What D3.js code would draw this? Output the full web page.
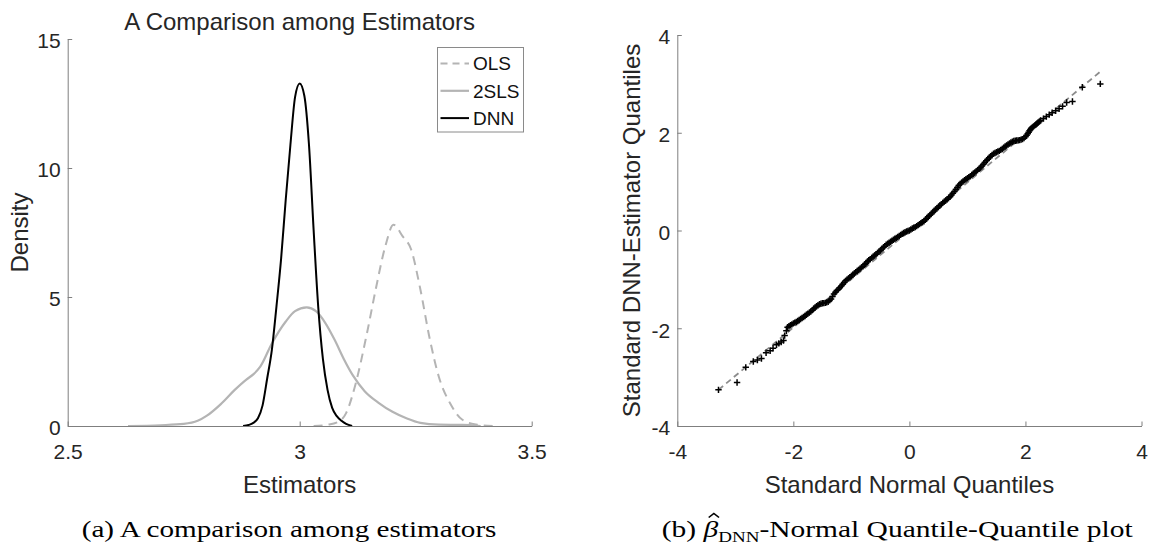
<!DOCTYPE html>
<html>
<head>
<meta charset="utf-8">
<script src="https://cdn.jsdelivr.net/npm/d3@7"></script>
<style>
  body { margin: 0; background: #fff; }
  svg { display: block; }
</style>
</head>
<body>
<svg id="fig" width="1153" height="546"></svg>
<script>
// ---------- Panel (a): kernel density of the three estimators ----------
const densityTicksX = [2.5, 3, 3.5];
const densityTicksY = [0, 5, 10, 15];
const seriesNames = ["OLS", "2SLS", "DNN"];

const olsX = [3.03, 3.06, 3.085, 3.10, 3.12, 3.145, 3.165, 3.185, 3.202, 3.222, 3.24, 3.26, 3.28, 3.30, 3.325, 3.35, 3.38, 3.417];
const olsY = [0, 0.05, 0.18, 0.5, 1.6, 3.6, 5.4, 7.0, 7.8, 7.35, 6.85, 5.3, 3.4, 1.9, 0.85, 0.25, 0.06, 0];

const tslsX = [2.63, 2.70, 2.75, 2.78, 2.80, 2.83, 2.86, 2.885, 2.90, 2.915, 2.94, 2.97, 2.99, 3.015, 3.035, 3.055, 3.075, 3.095, 3.115, 3.14, 3.17, 3.20, 3.23, 3.26, 3.30, 3.35, 3.39];
const tslsY = [0, 0.03, 0.08, 0.2, 0.4, 0.85, 1.4, 1.8, 2.0, 2.3, 3.2, 4.05, 4.45, 4.6, 4.45, 4.0, 3.35, 2.6, 1.95, 1.35, 0.9, 0.55, 0.3, 0.12, 0.05, 0.04, 0];

const dnnX = [2.878, 2.89, 2.90, 2.91, 2.92, 2.93, 2.94, 2.95, 2.96, 2.97, 2.98, 2.99, 3.00, 3.01, 3.02, 3.03, 3.04, 3.05, 3.06, 3.07, 3.08, 3.09, 3.10, 3.113];
const dnnY = [0, 0.04, 0.12, 0.3, 0.8, 1.85, 2.95, 4.65, 6.5, 8.8, 10.9, 12.75, 13.28, 12.8, 10.9, 7.6, 4.6, 2.6, 1.4, 0.7, 0.38, 0.2, 0.08, 0];

// ---------- Panel (b): normal Q-Q plot of the standardised DNN estimator ----------
const qqTicks = [-4, -2, 0, 2, 4];
const qqTheoretical = [
  // lower tail
  -3.29, -2.97, -2.82, -2.69, -2.62, -2.55, -2.47, -2.40, -2.35, -2.29, -2.25, -2.21, -2.17, -2.15, -2.12,
  // body
  -2.100, -2.075, -2.050, -2.025, -2.000, -1.975, -1.950, -1.925, -1.900, -1.875,
  -1.850, -1.825, -1.800, -1.775, -1.750, -1.725, -1.700, -1.675, -1.650, -1.625,
  -1.600, -1.575, -1.550, -1.525, -1.500, -1.475, -1.450, -1.425, -1.400, -1.375,
  -1.350, -1.325, -1.300, -1.275, -1.250, -1.225, -1.200, -1.175, -1.150, -1.125,
  -1.100, -1.075, -1.050, -1.025, -1.000, -0.975, -0.950, -0.925, -0.900, -0.875,
  -0.850, -0.825, -0.800, -0.775, -0.750, -0.725, -0.700, -0.675, -0.650, -0.625,
  -0.600, -0.575, -0.550, -0.525, -0.500, -0.475, -0.450, -0.425, -0.400, -0.375,
  -0.350, -0.325, -0.300, -0.275, -0.250, -0.225, -0.200, -0.175, -0.150, -0.125,
  -0.100, -0.075, -0.050, -0.025, 0.000, 0.025, 0.050, 0.075, 0.100, 0.125,
  0.150, 0.175, 0.200, 0.225, 0.250, 0.275, 0.300, 0.325, 0.350, 0.375,
  0.400, 0.425, 0.450, 0.475, 0.500, 0.525, 0.550, 0.575, 0.600, 0.625,
  0.650, 0.675, 0.700, 0.725, 0.750, 0.775, 0.800, 0.825, 0.850, 0.875,
  0.900, 0.925, 0.950, 0.975, 1.000, 1.025, 1.050, 1.075, 1.100, 1.125,
  1.150, 1.175, 1.200, 1.225, 1.250, 1.275, 1.300, 1.325, 1.350, 1.375,
  1.400, 1.425, 1.450, 1.475, 1.500, 1.525, 1.550, 1.575, 1.600, 1.625,
  1.650, 1.675, 1.700, 1.725, 1.750, 1.775, 1.800, 1.825, 1.850, 1.875,
  1.900, 1.925, 1.950, 1.975, 2.000, 2.020, 2.040, 2.055, 2.070, 2.085,
  2.100, 2.120, 2.140, 2.160, 2.180, 2.200, 2.220, 2.240, 2.260,
  // upper tail
  2.31, 2.36, 2.41, 2.46, 2.52, 2.58, 2.64, 2.71, 2.81, 2.98, 3.29
];
const qqSample = [
  -3.26, -3.11, -2.80, -2.68, -2.65, -2.62, -2.50, -2.46, -2.41, -2.34, -2.31, -2.28, -2.25, -2.15, -2.05,
  -1.980, -1.960, -1.940, -1.920, -1.900, -1.885, -1.870, -1.850, -1.830, -1.810,
  -1.790, -1.770, -1.750, -1.725, -1.700, -1.680, -1.660, -1.630, -1.600, -1.575,
  -1.550, -1.530, -1.510, -1.500, -1.490, -1.485, -1.480, -1.470, -1.460, -1.430,
  -1.400, -1.350, -1.300, -1.265, -1.230, -1.200, -1.170, -1.135, -1.100, -1.065,
  -1.030, -1.005, -0.980, -0.955, -0.930, -0.905, -0.880, -0.855, -0.830, -0.805,
  -0.780, -0.755, -0.730, -0.700, -0.670, -0.640, -0.610, -0.585, -0.560, -0.535,
  -0.510, -0.485, -0.460, -0.435, -0.410, -0.380, -0.350, -0.320, -0.290, -0.270,
  -0.250, -0.230, -0.210, -0.190, -0.170, -0.150, -0.130, -0.110, -0.090, -0.070,
  -0.050, -0.035, -0.020, -0.010, 0.000, 0.020, 0.040, 0.055, 0.070, 0.090,
  0.110, 0.130, 0.150, 0.170, 0.190, 0.220, 0.250, 0.280, 0.310, 0.340,
  0.370, 0.400, 0.430, 0.455, 0.480, 0.510, 0.540, 0.565, 0.590, 0.615,
  0.640, 0.665, 0.690, 0.725, 0.760, 0.800, 0.840, 0.880, 0.920, 0.950,
  0.980, 1.005, 1.030, 1.050, 1.070, 1.090, 1.110, 1.135, 1.160, 1.185,
  1.210, 1.235, 1.260, 1.290, 1.320, 1.355, 1.390, 1.425, 1.460, 1.490,
  1.520, 1.545, 1.570, 1.585, 1.600, 1.615, 1.630, 1.650, 1.670, 1.695,
  1.720, 1.740, 1.760, 1.780, 1.800, 1.815, 1.830, 1.835, 1.840, 1.845,
  1.850, 1.860, 1.870, 1.890, 1.920, 1.950, 1.980, 2.010, 2.040, 2.065,
  2.090, 2.110, 2.130, 2.150, 2.170, 2.190, 2.210, 2.230, 2.250,
  2.29, 2.33, 2.37, 2.41, 2.45, 2.49, 2.54, 2.62, 2.64, 2.93, 3.00
];
const qqRefX = [-3.29, 3.29];
const qqRefY = [-3.26, 3.25];

// ---------- styling ----------
const SANS = '"Liberation Sans", Arial, Helvetica, sans-serif';
const SERIF = '"Liberation Serif", "Times New Roman", serif';
const axisColor = "#7f7f7f";
const textColor = "#262626";
const seriesStyle = {
  "OLS":  { stroke: "#b4b4b4", width: 2, dash: "9,6" },
  "2SLS": { stroke: "#b4b4b4", width: 2.2, dash: null },
  "DNN":  { stroke: "#000000", width: 2, dash: null }
};

const svg = d3.select("#fig");
svg.append("rect").attr("width", 1153).attr("height", 546).attr("fill", "#fff");

function drawAxes(g, x, y, xticks, yticks) {
  const fmt = d => String(d);
  const bottom = g.append("g")
    .attr("transform", `translate(0,${y.range()[0]})`)
    .call(d3.axisBottom(x).tickValues(xticks).tickFormat(fmt)
      .tickSize(-4.5).tickSizeOuter(0).tickPadding(18));
  const left = g.append("g")
    .attr("transform", `translate(${x.range()[0]},0)`)
    .call(d3.axisLeft(y).tickValues(yticks).tickFormat(fmt)
      .tickSize(-4.5).tickSizeOuter(0).tickPadding(7));
  left.selectAll("text").attr("dy", "0.42em");
  [bottom, left].forEach(a => {
    a.attr("font-family", null).attr("font-size", null);
    a.selectAll(".domain, .tick line").attr("stroke", axisColor).attr("stroke-width", 1);
    a.selectAll("text").attr("fill", textColor)
      .style("font-family", SANS).style("font-size", "21px");
  });
}

// ---------- Panel (a) ----------
const xA = d3.scaleLinear().domain([2.5, 3.5]).range([67.7, 531.7]);
const yA = d3.scaleLinear().domain([0, 15]).range([426, 39]);
const gA = svg.append("g");

const seriesData = {
  "OLS": d3.zip(olsX, olsY),
  "2SLS": d3.zip(tslsX, tslsY),
  "DNN": d3.zip(dnnX, dnnY)
};
const densLine = d3.line().x(d => xA(d[0])).y(d => yA(d[1])).curve(d3.curveMonotoneX);

seriesNames.forEach(name => {
  const s = seriesStyle[name];
  gA.append("path")
    .datum(seriesData[name])
    .attr("d", densLine)
    .attr("fill", "none")
    .attr("stroke", s.stroke)
    .attr("stroke-width", s.width)
    .attr("stroke-dasharray", s.dash)
    .attr("stroke-linejoin", "round");
});

drawAxes(gA, xA, yA, densityTicksX, densityTicksY);

gA.append("text")
  .attr("x", (xA.range()[0] + xA.range()[1]) / 2).attr("y", 30)
  .attr("text-anchor", "middle").attr("fill", textColor)
  .style("font-family", SANS).style("font-size", "24px")
  .text("A Comparison among Estimators");

gA.append("text")
  .attr("x", (xA.range()[0] + xA.range()[1]) / 2).attr("y", 492.5)
  .attr("text-anchor", "middle").attr("fill", textColor)
  .style("font-family", SANS).style("font-size", "24px")
  .text("Estimators");

gA.append("text")
  .attr("transform", `translate(27.5,${(yA.range()[0] + yA.range()[1]) / 2}) rotate(-90)`)
  .attr("text-anchor", "middle").attr("fill", textColor)
  .style("font-family", SANS).style("font-size", "24px")
  .text("Density");

// legend
const leg = gA.append("g").attr("transform", "translate(437.5,47.5)");
leg.append("rect").attr("width", 86).attr("height", 84.5)
  .attr("fill", "#fff").attr("stroke", "#8a8a8a").attr("stroke-width", 1);
seriesNames.forEach((name, i) => {
  const s = seriesStyle[name];
  const cy = 16 + i * 27.3;
  leg.append("line").attr("x1", 3).attr("x2", 31.5).attr("y1", cy).attr("y2", cy)
    .attr("stroke", s.stroke).attr("stroke-width", s.width)
    .attr("stroke-dasharray", s.dash ? "7,5" : null);
  leg.append("text").attr("x", 35.5).attr("y", cy).attr("dy", "0.36em")
    .attr("fill", "#111")
    .style("font-family", SANS).style("font-size", "19px")
    .text(name);
});

// ---------- Panel (b) ----------
const xB = d3.scaleLinear().domain([-4, 4]).range([677.3, 1141.5]);
const yB = d3.scaleLinear().domain([-4, 4]).range([426, 35]);
const gB = svg.append("g");

gB.append("line")
  .attr("x1", xB(qqRefX[0])).attr("y1", yB(qqRefY[0]))
  .attr("x2", xB(qqRefX[1])).attr("y2", yB(qqRefY[1]))
  .attr("stroke", "#8c8c8c").attr("stroke-width", 1.8)
  .attr("stroke-dasharray", "6,4");

const plus = "M-3.2,0H3.2M0,-3.2V3.2";
gB.append("g").selectAll("path")
  .data(d3.zip(qqTheoretical, qqSample))
  .join("path")
  .attr("transform", d => `translate(${xB(d[0])},${yB(d[1])})`)
  .attr("d", plus)
  .attr("stroke", "#000").attr("stroke-width", 1.5).attr("fill", "none");

drawAxes(gB, xB, yB, qqTicks, qqTicks);

gB.append("text")
  .attr("x", (xB.range()[0] + xB.range()[1]) / 2).attr("y", 492.5)
  .attr("text-anchor", "middle").attr("fill", textColor)
  .style("font-family", SANS).style("font-size", "24px")
  .text("Standard Normal Quantiles");

gB.append("text")
  .attr("transform", `translate(640,${(yB.range()[0] + yB.range()[1]) / 2}) rotate(-90)`)
  .attr("text-anchor", "middle").attr("fill", textColor)
  .style("font-family", SANS).style("font-size", "24px")
  .text("Standard DNN-Estimator Quantiles");

// ---------- sub-figure captions ----------
function fitCaption(group, x0, width) {
  const bb = group.node().getBBox();
  const sx = width / bb.width;
  group.attr("transform", `translate(${x0 - bb.x * sx},537) scale(${sx},1)`);
}

const capA = svg.append("g");
capA.append("text").attr("x", 0).attr("y", 0).attr("fill", "#000")
  .style("font-family", SERIF).style("font-size", "24px")
  .text("(a) A comparison among estimators");
fitCaption(capA, 81.7, 415);

const capB = svg.append("g");
const tb = capB.append("text").attr("x", 0).attr("y", 0).attr("fill", "#000")
  .style("font-family", SERIF).style("font-size", "24px");
tb.append("tspan").text("(b) ");
tb.append("tspan").style("font-style", "italic").text("β");
tb.append("tspan").attr("dy", 4.5).style("font-size", "15.5px").text("DNN");
tb.append("tspan").attr("dy", -4.5).text("-Normal Quantile-Quantile plot");
// hat accent over beta, drawn as a small chevron
const node = tb.node();
const betaIndex = 4;
const bs = node.getStartPositionOfChar(betaIndex).x;
const be = node.getEndPositionOfChar(betaIndex).x;
const hx = (bs + be) / 2 + 2.5;
capB.append("path")
  .attr("d", `M${hx - 4.2},-19.5L${hx},-23.5L${hx + 4.2},-19.5`)
  .attr("fill", "none").attr("stroke", "#000").attr("stroke-width", 1.3)
  .attr("stroke-linejoin", "miter");
fitCaption(capB, 661.7, 471.5);
</script>
</body>
</html>
